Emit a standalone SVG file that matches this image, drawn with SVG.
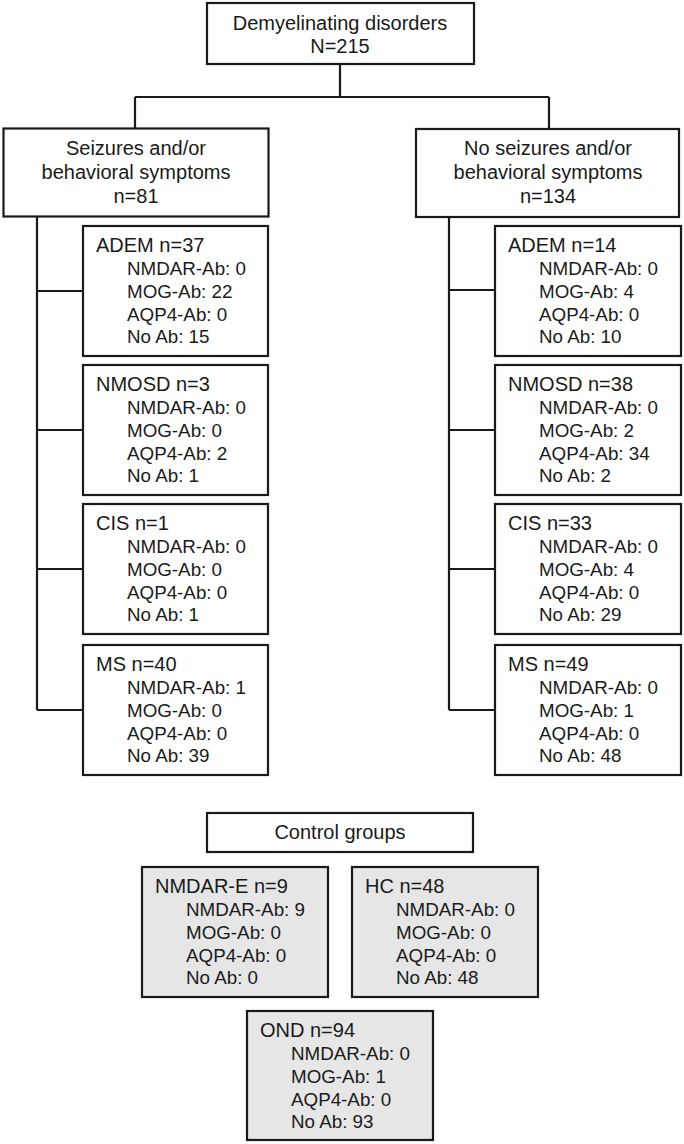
<svg xmlns="http://www.w3.org/2000/svg" width="684" height="1144" viewBox="0 0 684 1144">
<style>
.box{fill:#fff;stroke:#1a1a1a;stroke-width:2.2}
.gbox{fill:#e6e6e6;stroke:#1a1a1a;stroke-width:2.2}
.ln{fill:none;stroke:#1a1a1a;stroke-width:2.2}
text{font-family:"Liberation Sans",Arial,sans-serif;fill:#1a1a1a}
.h{font-size:20px}
.c{text-anchor:middle}
.s{font-size:18.8px}
</style>
<rect width="684" height="1144" fill="#fff"/>
<g id="connectors">
<path class="ln" d="M340,64 V97 M135,97 H549 M135,97 V128.5 M549,97 V129"/>
<path class="ln" d="M37,217 V710 M37,291 H83 M37,430 H83 M37,569 H83 M37,710 H83"/>
<path class="ln" d="M449,217 V710 M449,290 H495 M449,430 H495 M449,569 H495 M449,710 H495"/>
</g>
<g id="root">
<rect class="box" x="207" y="3" width="267" height="61"/>
<text class="h c" x="340" y="30">Demyelinating disorders</text>
<text class="h c" x="340" y="53">N=215</text>
</g>
<g id="seizures">
<rect class="box" x="3.5" y="128.5" width="265" height="88"/>
<text class="h c" x="136" y="155">Seizures and/or</text>
<text class="h c" x="136" y="179">behavioral symptoms</text>
<text class="h c" x="136" y="203">n=81</text>
</g>
<g id="noseizures">
<rect class="box" x="416" y="129" width="263" height="88"/>
<text class="h c" x="548" y="155">No seizures and/or</text>
<text class="h c" x="548" y="179">behavioral symptoms</text>
<text class="h c" x="548" y="203">n=134</text>
</g>
<g id="l-adem">
<rect class="box" x="83" y="226" width="185" height="130"/>
<text class="h" x="96" y="252">ADEM n=37</text>
<text class="s" x="127" y="275">NMDAR-Ab: 0</text>
<text class="s" x="127" y="298">MOG-Ab: 22</text>
<text class="s" x="127" y="321">AQP4-Ab: 0</text>
<text class="s" x="127" y="343">No Ab: 15</text>
</g>
<g id="l-nmosd">
<rect class="box" x="83" y="365" width="185" height="130"/>
<text class="h" x="96" y="391">NMOSD n=3</text>
<text class="s" x="127" y="414">NMDAR-Ab: 0</text>
<text class="s" x="127" y="437">MOG-Ab: 0</text>
<text class="s" x="127" y="460">AQP4-Ab: 2</text>
<text class="s" x="127" y="482">No Ab: 1</text>
</g>
<g id="l-cis">
<rect class="box" x="83" y="504" width="185" height="130"/>
<text class="h" x="96" y="530">CIS n=1</text>
<text class="s" x="127" y="553">NMDAR-Ab: 0</text>
<text class="s" x="127" y="576">MOG-Ab: 0</text>
<text class="s" x="127" y="599">AQP4-Ab: 0</text>
<text class="s" x="127" y="621">No Ab: 1</text>
</g>
<g id="l-ms">
<rect class="box" x="83" y="645" width="185" height="130"/>
<text class="h" x="96" y="671">MS n=40</text>
<text class="s" x="127" y="694">NMDAR-Ab: 1</text>
<text class="s" x="127" y="717">MOG-Ab: 0</text>
<text class="s" x="127" y="740">AQP4-Ab: 0</text>
<text class="s" x="127" y="762">No Ab: 39</text>
</g>
<g id="r-adem">
<rect class="box" x="495" y="226" width="186" height="130"/>
<text class="h" x="508" y="252">ADEM n=14</text>
<text class="s" x="539" y="275">NMDAR-Ab: 0</text>
<text class="s" x="539" y="298">MOG-Ab: 4</text>
<text class="s" x="539" y="321">AQP4-Ab: 0</text>
<text class="s" x="539" y="343">No Ab: 10</text>
</g>
<g id="r-nmosd">
<rect class="box" x="495" y="365" width="186" height="130"/>
<text class="h" x="508" y="391">NMOSD n=38</text>
<text class="s" x="539" y="414">NMDAR-Ab: 0</text>
<text class="s" x="539" y="437">MOG-Ab: 2</text>
<text class="s" x="539" y="460">AQP4-Ab: 34</text>
<text class="s" x="539" y="482">No Ab: 2</text>
</g>
<g id="r-cis">
<rect class="box" x="495" y="504" width="186" height="130"/>
<text class="h" x="508" y="530">CIS n=33</text>
<text class="s" x="539" y="553">NMDAR-Ab: 0</text>
<text class="s" x="539" y="576">MOG-Ab: 4</text>
<text class="s" x="539" y="599">AQP4-Ab: 0</text>
<text class="s" x="539" y="621">No Ab: 29</text>
</g>
<g id="r-ms">
<rect class="box" x="495" y="645" width="186" height="130"/>
<text class="h" x="508" y="671">MS n=49</text>
<text class="s" x="539" y="694">NMDAR-Ab: 0</text>
<text class="s" x="539" y="717">MOG-Ab: 1</text>
<text class="s" x="539" y="740">AQP4-Ab: 0</text>
<text class="s" x="539" y="762">No Ab: 48</text>
</g>
<g id="controls">
<rect class="box" x="207" y="813" width="266" height="39"/>
<text class="h c" x="340" y="839">Control groups</text>
</g>
<g id="nmdare">
<rect class="gbox" x="142" y="867" width="186" height="130"/>
<text class="h" x="155" y="893">NMDAR-E n=9</text>
<text class="s" x="186" y="916">NMDAR-Ab: 9</text>
<text class="s" x="186" y="939">MOG-Ab: 0</text>
<text class="s" x="186" y="962">AQP4-Ab: 0</text>
<text class="s" x="186" y="984">No Ab: 0</text>
</g>
<g id="hc">
<rect class="gbox" x="352" y="867" width="186" height="130"/>
<text class="h" x="365" y="893">HC n=48</text>
<text class="s" x="396" y="916">NMDAR-Ab: 0</text>
<text class="s" x="396" y="939">MOG-Ab: 0</text>
<text class="s" x="396" y="962">AQP4-Ab: 0</text>
<text class="s" x="396" y="984">No Ab: 48</text>
</g>
<g id="ond">
<rect class="gbox" x="247" y="1011" width="186" height="129"/>
<text class="h" x="260" y="1037">OND n=94</text>
<text class="s" x="291" y="1060">NMDAR-Ab: 0</text>
<text class="s" x="291" y="1083">MOG-Ab: 1</text>
<text class="s" x="291" y="1106">AQP4-Ab: 0</text>
<text class="s" x="291" y="1128">No Ab: 93</text>
</g>
</svg>
